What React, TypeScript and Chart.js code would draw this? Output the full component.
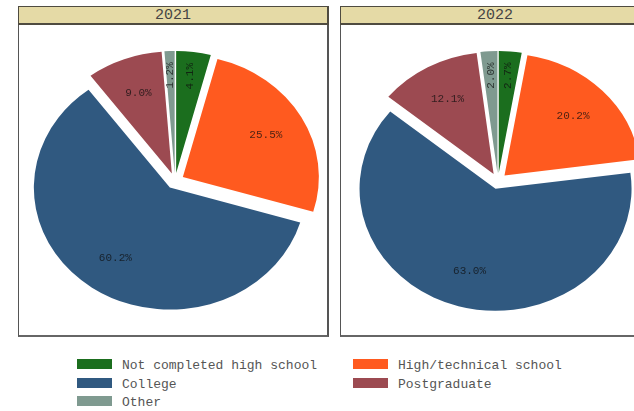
import React, { useEffect, useRef } from "react";
import { Chart, registerables } from "chart.js";

Chart.register(...registerables);

// ---- data ----
const years = ["2021", "2022"];
const categories = [
  "Not completed high school",
  "High/technical school",
  "College",
  "Postgraduate",
  "Other",
];
const values2021 = [4.1, 25.5, 60.2, 9.0, 1.2];
const values2022 = [2.7, 20.2, 63.0, 12.1, 2.0];
const colors = ["#1b6e1e", "#ff5a1f", "#305980", "#9c4a51", "#7f9a90"];

// ---- style ----
const FONT = '"Liberation Mono", "Courier New", monospace';
const RX = 136;
const Y_SCALE = 0.897;
const EXPLODE = 9;
const CANVAS = 310;

const explodePlugin = {
  id: "explodeEllipse",
  beforeDatasetsDraw(chart: any) {
    const { left, right, top, bottom } = chart.chartArea;
    const cx = (left + right) / 2;
    const cy = (top + bottom) / 2;
    const meta = chart.getDatasetMeta(0);
    meta.data.forEach((arc: any) => {
      const mid = (arc.startAngle + arc.endAngle) / 2;
      arc.x = cx + EXPLODE * Math.cos(mid);
      arc.y = cy + EXPLODE * Math.sin(mid);
    });
    const ctx = chart.ctx;
    ctx.save();
    ctx.translate(cx, cy);
    ctx.scale(1, Y_SCALE);
    ctx.translate(-cx, -cy);
  },
  afterDatasetsDraw(chart: any) {
    const ctx = chart.ctx;
    ctx.restore();
    const { left, right, top, bottom } = chart.chartArea;
    const cx = (left + right) / 2;
    const cy = (top + bottom) / 2;
    const meta = chart.getDatasetMeta(0);
    const data = chart.data.datasets[0].data as number[];
    meta.data.forEach((arc: any, i: number) => {
      const v = data[i];
      const mid = (arc.startAngle + arc.endAngle) / 2;
      const vertical = v < 5;
      const k = vertical ? 0.8 : 0.7;
      const r = EXPLODE + k * arc.outerRadius;
      const x = cx + r * Math.cos(mid);
      const y = cy + r * Math.sin(mid) * Y_SCALE;
      ctx.save();
      ctx.translate(x, y);
      if (vertical) ctx.rotate(-Math.PI / 2);
      ctx.font = `11px ${FONT}`;
      ctx.fillStyle = "rgba(15,15,15,0.75)";
      ctx.textAlign = "center";
      ctx.textBaseline = "middle";
      ctx.fillText(v.toFixed(1) + "%", 0, 0);
      ctx.restore();
    });
  },
};

function PieCanvas({ values, left, top }: { values: number[]; left: number; top: number }) {
  const ref = useRef<HTMLCanvasElement | null>(null);
  useEffect(() => {
    if (!ref.current) return;
    const chart = new Chart(ref.current, {
      type: "pie",
      data: {
        labels: categories,
        datasets: [
          {
            data: values,
            backgroundColor: colors,
            borderWidth: 0,
          },
        ],
      },
      options: {
        responsive: false,
        animation: false,
        radius: RX,
        events: [],
        layout: { padding: 0 },
        plugins: {
          legend: { display: false },
          tooltip: { enabled: false },
          title: { display: false },
        },
      } as any,
      plugins: [explodePlugin],
    });
    return () => chart.destroy();
  }, [values]);
  return (
    <canvas
      ref={ref}
      width={CANVAS}
      height={CANVAS}
      style={{ position: "absolute", left, top, width: CANVAS, height: CANVAS }}
    />
  );
}

function Panel({ left, title }: { left: number; title: string }) {
  return (
    <>
      <div
        style={{
          position: "absolute",
          left,
          top: 6,
          width: 311,
          height: 19,
          boxSizing: "border-box",
          background: "#e5daa6",
          borderTop: "1px solid #4f4b40",
          borderLeft: "1px solid #4f4b40",
          borderRight: "2px solid #4f4b40",
          borderBottom: "2px solid #4f4b40",
          textAlign: "center",
          fontFamily: FONT,
          fontSize: 15,
          lineHeight: "18px",
          color: "#444",
        }}
      >
        {title}
      </div>
      <div
        style={{
          position: "absolute",
          left,
          top: 25,
          width: 311,
          height: 312,
          boxSizing: "border-box",
          background: "#ffffff",
          borderLeft: "1px solid #555",
          borderRight: "2px solid #555",
          borderBottom: "2px solid #666",
        }}
      />
    </>
  );
}

function LegendItem({ x, y, color, label }: { x: number; y: number; color: string; label: string }) {
  return (
    <>
      <div
        style={{
          position: "absolute",
          left: x,
          top: y,
          width: 35,
          height: 10,
          background: color,
        }}
      />
      <div
        style={{
          position: "absolute",
          left: x + 45,
          top: y - 2,
          height: 18,
          lineHeight: "18px",
          fontFamily: FONT,
          fontSize: 13,
          color: "#555",
          whiteSpace: "nowrap",
        }}
      >
        {label}
      </div>
    </>
  );
}

export default function App() {
  const legendCols = [77, 353];
  const legendRows = [359, 378, 396];
  return (
    <div
      style={{
        position: "absolute",
        left: 0,
        top: 0,
        width: 634,
        height: 411,
        overflow: "hidden",
        background: "#ffffff",
      }}
    >
      <Panel left={18} title={years[0]} />
      <Panel left={340} title={years[1]} />
      <PieCanvas values={values2021} left={20} top={26} />
      <PieCanvas values={values2022} left={343} top={26} />
      {categories.map((c, i) => (
        <LegendItem
          key={c}
          x={legendCols[i % 2]}
          y={legendRows[Math.floor(i / 2)]}
          color={colors[i]}
          label={c}
        />
      ))}
    </div>
  );
}
